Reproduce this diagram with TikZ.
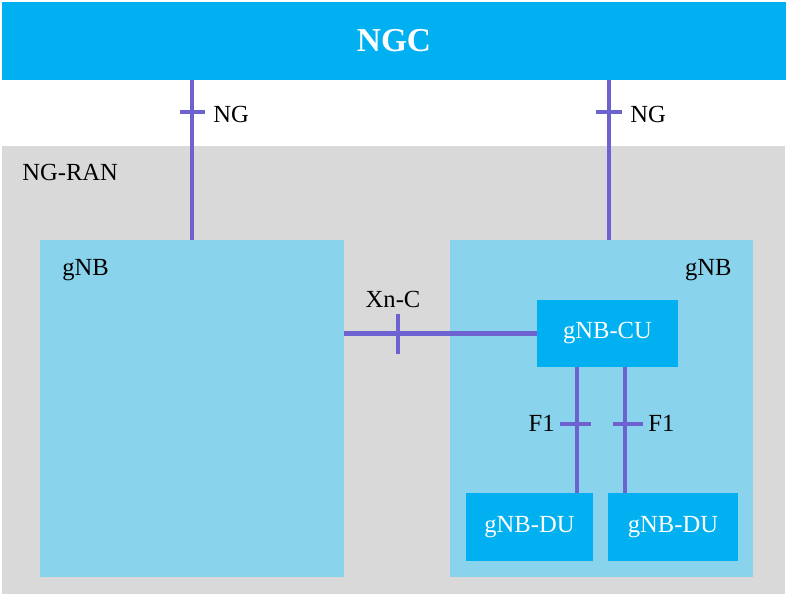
\documentclass[tikz,border=0pt]{standalone}
\usepackage{fontspec}
\setmainfont{Liberation Serif}
\usepackage{xcolor}
\usepackage{tikz}
\usetikzlibrary{positioning, calc}
\definecolor{ngcblue}{HTML}{00B0F0}
\definecolor{gnbblue}{HTML}{8AD3EC}
\definecolor{rangrey}{HTML}{D9D9D9}
\definecolor{ifviolet}{HTML}{6E62D0}

\begin{document}
\begin{tikzpicture}[x=0.02cm, y=-0.02cm, font=\fontsize{14}{16}\selectfont,
    area/.style={rectangle, inner sep=0pt, outer sep=0pt},
    corebox/.style={area, fill=ngcblue, text=white},
    ranbox/.style={area, fill=rangrey},
    gnbbox/.style={area, fill=gnbblue},
    unitbox/.style={area, fill=ngcblue, text=white},
    lbl/.style={inner sep=0pt},
    iface/.style={draw=ifviolet, line width=2.3pt},
    tickmark/.style={draw=ifviolet, line width=2.5pt},
  ]
    \useasboundingbox (0,0) rectangle (788,596);

    % Core and RAN areas
    \node[corebox, minimum width=15.68cm, minimum height=1.56cm,
          font=\fontsize{19}{22}\selectfont\bfseries] (ngc) at (394,41) {NGC};
    \node[ranbox, minimum width=15.66cm, minimum height=8.96cm] (ran) at (393.5,370) {};
    \node[lbl, anchor=west] (ranlbl) at (22,172) {NG-RAN};

    % gNBs
    \node[gnbbox, minimum width=6.08cm, minimum height=6.74cm] (gnbL) at (192,408.5) {};
    \node[gnbbox, minimum width=6.06cm, minimum height=6.74cm] (gnbR) at (601.5,408.5) {};
    \node[lbl, anchor=west] (gnbLlbl) at (62,270) {gNB};
    \node[lbl, anchor=east] (gnbRlbl) at (732,270) {gNB};

    % CU / DU split
    \node[unitbox, minimum width=2.82cm, minimum height=1.34cm] (cu)  at (607.5,333.5) {gNB-CU};
    \node[unitbox, minimum width=2.54cm, minimum height=1.36cm] (du1) at (529.5,527) {gNB-DU};
    \node[unitbox, minimum width=2.60cm, minimum height=1.36cm] (du2) at (673,527) {gNB-DU};

    \coordinate (ngRx) at (609,0);
    \coordinate (f1a) at (577,0);
    \coordinate (f1b) at (625,0);

    % NG
    \draw[iface] (ngc.south -| gnbL.north) -- coordinate[pos=0.2] (ngLt) (gnbL.north);
    \draw[iface] (ngc.south -| ngRx) -- coordinate[pos=0.2] (ngRt) (gnbR.north -| ngRx);
    \draw[tickmark] ([xshift=-0.25cm]ngLt) -- ([xshift=0.27cm]ngLt);
    \draw[tickmark] ([xshift=-0.26cm]ngRt) -- ([xshift=0.26cm]ngRt);
    \node[lbl, anchor=west] (ngLlbl) at ([xshift=0.42cm, yshift=-0.04cm]ngLt) {NG};
    \node[lbl, anchor=west] (ngRlbl) at ([xshift=0.42cm, yshift=-0.04cm]ngRt) {NG};

    % Xn-C
    \draw[iface] (cu.west -| gnbL.east) -- coordinate[pos=0.28] (xnt) (cu.west);
    \draw[tickmark] ([yshift=0.40cm]xnt) -- ([yshift=-0.40cm]xnt);
    \node[lbl] (xnlbl) at ([xshift=-0.1cm, yshift=0.68cm]xnt) {Xn-C};

    % F1
    \draw[iface] (cu.south -| f1a) -- coordinate[pos=0.45] (f1at) (du1.north -| f1a);
    \draw[iface] (cu.south -| f1b) -- coordinate[pos=0.45] (f1bt) (du2.north -| f1b);
    \draw[tickmark] ([xshift=-0.34cm]f1at) -- ([xshift=0.28cm]f1at);
    \draw[tickmark] ([xshift=-0.24cm]f1bt) -- ([xshift=0.36cm]f1bt);
    \node[lbl, anchor=east] (f1albl) at ([xshift=-0.44cm]f1at) {F1};
    \node[lbl, anchor=west] (f1blbl) at ([xshift=0.46cm]f1bt) {F1};
  \end{tikzpicture}
\end{document}
